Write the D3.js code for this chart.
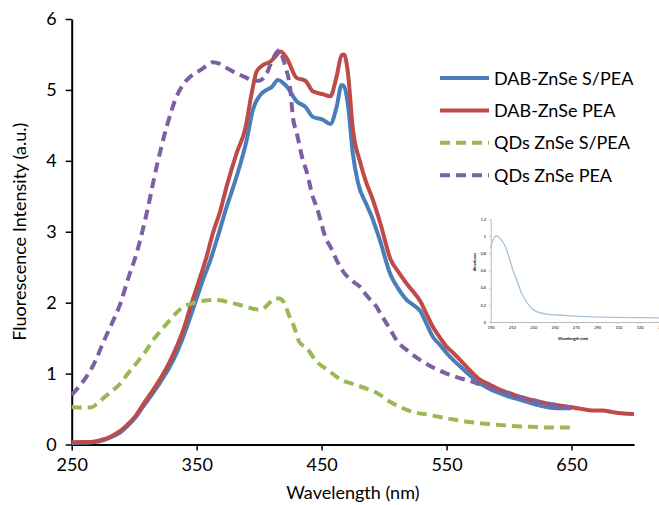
<!DOCTYPE html>
<html>
<head>
<meta charset="utf-8">
<script src="https://cdn.jsdelivr.net/npm/d3@7"></script>
<style>
    body { margin: 0; background: #fff; }
    svg text { font-family: Lato, "Open Sans", sans-serif; fill: #000; }
</style>
</head>
<body>
<svg id="chartSVG" width="659" height="505"></svg>
<script>
// wavelength (nm) / intensity pairs
dab_s_pea = [[250,0.02],[260,0.025],[267,0.03],[275,0.06],[281,0.10],[288,0.16],[294,0.25],[301,0.38],[307,0.53],[314,0.70],[321,0.88],[328,1.08],[334,1.29],[340,1.55],[345,1.80],[350,2.06],[355,2.32],[361,2.60],[366,2.88],[374,3.35],[382,3.78],[390,4.29],[395,4.72],[401,4.93],[406,5.00],[410,5.04],[415,5.14],[422,5.05],[430,4.84],[437,4.76],[443,4.62],[451,4.58],[457,4.52],[462,4.76],[466,5.07],[468,5.05],[471,4.80],[475,4.10],[479,3.70],[486,3.38],[490,3.22],[497,2.86],[505,2.40],[512,2.18],[518,2.04],[524,1.96],[529,1.88],[534,1.70],[539,1.52],[545,1.40],[550,1.29],[556,1.18],[561,1.10],[569,0.97],[577,0.86],[585,0.78],[593,0.72],[601,0.67],[609,0.63],[620,0.57],[630,0.53],[640,0.51],[650,0.51]];

dab_pea = [[250,0.03],[260,0.035],[267,0.04],[275,0.07],[281,0.11],[288,0.18],[294,0.27],[301,0.40],[307,0.56],[314,0.74],[321,0.93],[328,1.15],[334,1.38],[340,1.65],[345,1.94],[353,2.37],[358,2.65],[363,2.98],[369,3.30],[374,3.64],[382,4.11],[389,4.46],[394,4.95],[398,5.26],[403,5.35],[409,5.40],[413,5.47],[417,5.54],[422,5.45],[430,5.17],[437,5.13],[443,4.98],[451,4.94],[457,4.91],[462,5.19],[466,5.49],[468,5.50],[471,5.25],[475,4.45],[481,3.97],[486,3.68],[490,3.50],[497,3.12],[505,2.62],[512,2.42],[518,2.27],[524,2.14],[529,2.02],[534,1.84],[539,1.66],[545,1.50],[550,1.38],[556,1.28],[561,1.19],[569,1.04],[577,0.91],[585,0.84],[593,0.77],[601,0.72],[609,0.67],[620,0.62],[630,0.58],[640,0.55],[649,0.53],[655,0.51],[662,0.49],[668,0.48],[675,0.48],[682,0.46],[690,0.44],[700,0.43]];

qds_s_pea = [[250,0.53],[258,0.52],[265,0.52],[270,0.57],[275,0.65],[282,0.75],[289,0.86],[295,1.00],[302,1.15],[309,1.31],[315,1.47],[322,1.62],[329,1.76],[334,1.86],[339,1.94],[345,1.98],[350,2.01],[357,2.03],[363,2.04],[370,2.03],[377,2.00],[384,1.97],[390,1.94],[396,1.91],[401,1.90],[405,1.94],[409,2.01],[413,2.06],[416,2.06],[420,2.00],[424,1.82],[428,1.66],[432,1.45],[438,1.36],[446,1.17],[455,1.05],[466,0.91],[476,0.85],[487,0.78],[495,0.72],[505,0.60],[514,0.52],[523,0.46],[535,0.42],[550,0.37],[563,0.33],[577,0.30],[590,0.28],[603,0.26],[617,0.25],[630,0.24],[650,0.24]];

qds_pea = [[250,0.70],[256,0.82],[262,0.96],[269,1.18],[275,1.43],[282,1.70],[289,1.99],[295,2.33],[302,2.70],[310,3.26],[318,3.92],[326,4.48],[334,4.91],[339,5.07],[345,5.19],[353,5.28],[358,5.34],[363,5.39],[368,5.37],[374,5.31],[379,5.26],[385,5.21],[390,5.17],[395,5.13],[400,5.13],[403,5.16],[407,5.27],[410,5.40],[414,5.53],[416,5.56],[419,5.45],[421,5.33],[425,5.00],[427,4.62],[430,4.40],[435,4.01],[438,3.85],[443,3.49],[446,3.35],[454,2.88],[457,2.79],[462,2.60],[468,2.42],[475,2.30],[481,2.22],[486,2.10],[494,1.94],[497,1.85],[505,1.62],[510,1.47],[519,1.32],[529,1.19],[540,1.08],[550,1.00],[558,0.95],[566,0.91],[578,0.84],[590,0.77],[603,0.70],[616,0.64],[630,0.58],[640,0.55],[649,0.52]];

series_names = ["DAB-ZnSe S/PEA", "DAB-ZnSe PEA", "QDs ZnSe S/PEA", "QDs ZnSe PEA"];
series_data = [dab_s_pea, dab_pea, qds_s_pea, qds_pea];
series_colors = ["#4a7ebb", "#be4b48", "#98b954", "#7d60a0"];
series_dashed = [false, false, true, true];

x_ticks = [250, 350, 450, 550, 650];
y_ticks = [0, 1, 2, 3, 4, 5, 6];

// small absorbance inset
inset_data = [[190,0.86],[192,0.95],[195.5,1.005],[199,0.97],[202,0.92],[205,0.84],[208,0.72],[211,0.60],[214.5,0.49],[217,0.40],[220.5,0.30],[224,0.23],[227,0.18],[233,0.12],[242.5,0.093],[258,0.078],[280,0.062],[302,0.054],[327,0.05],[348,0.047],[360,0.045]];
inset_x_ticks = [190, 210, 230, 250, 270, 290, 310, 330, 350];
inset_y_ticks = [0, 0.2, 0.4, 0.6, 0.8, 1, 1.2];


svg = d3.select('#chartSVG');

x = d3.scaleLinear().domain([250, 700]).range([71.7, 634]);
y = d3.scaleLinear().domain([0, 6]).range([444.5, 19]);

line = d3.line()
    .x(d=>x(d[0]))
    .y(d=>y(d[1]))
    .curve(d3.curveMonotoneX);

// inset first, it sits on white
inset = svg.append('g');
ix = d3.scaleLinear().domain([190, 350]).range([490.7, 661]);
iy = d3.scaleLinear().domain([0, 1.2]).range([322, 219]);

inset.append('g')
    .attr("transform", `translate(0, ${iy(0)})`)
    .call(d3.axisBottom(ix).tickValues(inset_x_ticks).tickSize(1.5).tickSizeOuter(0).tickPadding(3))
    .call(g=>g.selectAll("path, line").attr("stroke", "#bbb"))
    .call(g=>g.selectAll("text").attr("font-size", 4).attr("fill", "#555"));

inset.append('g')
    .attr("transform", `translate(${ix(190)}, 0)`)
    .call(d3.axisLeft(iy).tickValues(inset_y_ticks).tickSize(1.5).tickSizeOuter(0).tickPadding(3)
            .tickFormat(d=>String(d).replace('.', ',')))
    .call(g=>g.selectAll("path, line").attr("stroke", "#bbb"))
    .call(g=>g.selectAll("text").attr("font-size", 4).attr("fill", "#555"));

inset.append("path")
    .datum(inset_data)
    .attr("fill", "none")
    .attr("stroke", "#a7c2dc")
    .attr("stroke-width", 1.3)
    .attr("d", d3.line().x(d=>ix(d[0])).y(d=>iy(d[1])).curve(d3.curveMonotoneX));

inset.append("text")
    .text("Wavelength (nm)")
    .attr("x", 573)
    .attr("y", 340)
    .attr("font-size", 4)
    .attr("font-weight", "bold")
    .attr("fill", "#555")
    .style("text-anchor", "middle");

inset.append("text")
    .text("Absorbance")
    .attr("transform", `translate(476, 262) rotate(-90)`)
    .attr("font-size", 3.5)
    .attr("font-weight", "bold")
    .attr("fill", "#555")
    .style("text-anchor", "middle");

// main axes
x_axis = svg.append('g')
    .attr("transform", `translate(0, ${y(0)})`)
    .call(d3.axisBottom(x).tickValues(x_ticks).tickSize(6).tickSizeOuter(0).tickPadding(8)
            .tickFormat(d3.format("d")));

y_axis = svg.append('g')
    .attr("transform", `translate(${x(250)}, 0)`)
    .call(d3.axisLeft(y).tickValues(y_ticks).tickSize(6).tickSizeOuter(0).tickPadding(9)
            .tickFormat(d3.format("d")));

[x_axis, y_axis].forEach(g => {
    g.selectAll("path").attr("stroke", "#000").attr("stroke-width", 2);
    g.selectAll("line").attr("stroke", "#000").attr("stroke-width", 1.5);
    g.selectAll("text").attr("font-size", 18).attr("font-family", "Lato, sans-serif");
});

svg.append("text")
    .text("Wavelength (nm)")
    .attr("x", (x(250) + x(700)) / 2)
    .attr("y", 499)
    .attr("font-size", 18)
    .style("text-anchor", "middle");

svg.append("text")
    .text("Fluorescence Intensity (a.u.)")
    .attr("transform", `translate(26, ${(y(0) + y(6)) / 2}) rotate(-90)`)
    .attr("font-size", 18)
    .style("text-anchor", "middle");

// curves
series_data.forEach((d, i) => {
    svg.append("path")
        .datum(d)
        .attr("fill", "none")
        .attr("stroke", series_colors[i])
        .attr("stroke-width", 4)
        .attr("stroke-linejoin", "round")
        .attr("stroke-dasharray", series_dashed[i] ? "10,6" : null)
        .attr("d", line);
});

// legend
legend = svg.append('g').attr("transform", "translate(440, 78)");

legend.selectAll(".leg_line")
    .data(series_names)
    .join("line")
    .attr("x1", 0)
    .attr("x2", 49)
    .attr("y1", (d, i)=>i*32.4)
    .attr("y2", (d, i)=>i*32.4)
    .attr("stroke", (d, i)=>series_colors[i])
    .attr("stroke-width", 4)
    .attr("stroke-dasharray", (d, i)=>series_dashed[i] ? "10,6" : null);

legend.selectAll(".leg_text")
    .data(series_names)
    .join("text")
    .text(d=>d)
    .attr("x", 54)
    .attr("y", (d, i)=>i*32.4 + 6.5)
    .attr("font-size", 18);
</script>
</body>
</html>
